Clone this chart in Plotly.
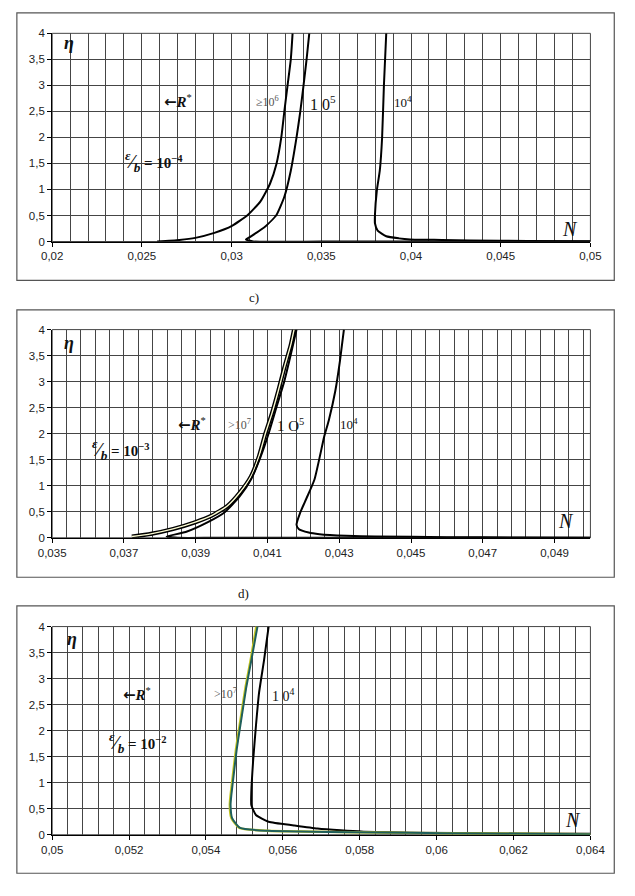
import plotly.graph_objects as go

W, H = 635, 896

# ---------------- Panel b (top): eps/b = 1e-4 ----------------
p1_re6_x = [0.02585, 0.02709, 0.02798, 0.02904, 0.03002, 0.0309, 0.03161, 0.03214, 0.0325, 0.03277, 0.03294, 0.03312, 0.0333, 0.0334]
p1_re6_y = [0.0, 0.03, 0.07, 0.165, 0.30, 0.51, 0.77, 1.11, 1.49, 2.0, 2.5, 3.0, 3.5, 4.0]
p1_re5_x = [0.05, 0.04, 0.035, 0.0312, 0.0308, 0.03108, 0.03188, 0.0325, 0.03294, 0.0333, 0.03362, 0.03383, 0.03401, 0.03418, 0.03433]
p1_re5_y = [0.0, 0.0, 0.0, 0.0, 0.04, 0.10, 0.29, 0.51, 0.86, 1.36, 2.0, 2.5, 3.0, 3.5, 4.0]
p1_re4_x = [0.03862, 0.03849, 0.03839, 0.03826, 0.0381, 0.03799, 0.03799, 0.03814, 0.03862, 0.03933, 0.03995, 0.04172, 0.0433, 0.0465, 0.05]
p1_re4_y = [4.0, 3.0, 2.0, 1.36, 0.99, 0.51, 0.35, 0.21, 0.10, 0.06, 0.04, 0.03, 0.02, 0.01, 0.005]

# ---------------- Panel c (middle): eps/b = 1e-3 ----------------
p2_re7_x = [0.03722, 0.03775, 0.03837, 0.03899, 0.03943, 0.03988, 0.04023, 0.04054, 0.04076, 0.04094, 0.04112, 0.0413, 0.04147, 0.04165, 0.04174]
p2_re7_y = [0.025, 0.076, 0.17, 0.30, 0.42, 0.61, 0.87, 1.18, 1.56, 2.0, 2.38, 2.82, 3.27, 3.71, 4.0]
p2_re5_x = [0.050, 0.046, 0.042, 0.0395, 0.0385, 0.03819, 0.03872, 0.03934, 0.03979, 0.04023, 0.04054, 0.04081, 0.04103, 0.04125, 0.04147, 0.04165, 0.04181]
p2_re5_y = [0.0, 0.0, 0.0, 0.0, 0.0, 0.025, 0.11, 0.30, 0.48, 0.80, 1.12, 1.56, 2.0, 2.51, 3.01, 3.52, 4.0]
p2_re4_x = [0.04313, 0.04302, 0.04289, 0.04271, 0.04258, 0.04231, 0.04205, 0.04191, 0.04181, 0.04187, 0.04215, 0.04245, 0.0432, 0.044, 0.046, 0.048, 0.050]
p2_re4_y = [4.0, 3.4, 2.82, 2.26, 1.94, 1.12, 0.70, 0.48, 0.25, 0.17, 0.10, 0.07, 0.04, 0.025, 0.012, 0.006, 0.003]

# ---------------- Panel d (bottom): eps/b = 1e-2 ----------------
p3_re7_x = [0.05534, 0.05518, 0.05505, 0.05493, 0.0548, 0.05472, 0.05466, 0.05464, 0.05468, 0.05489, 0.05563, 0.05646, 0.05716, 0.05849, 0.06014, 0.0622, 0.064]
p3_re7_y = [4.0, 3.35, 2.84, 2.27, 1.64, 1.14, 0.76, 0.57, 0.32, 0.13, 0.076, 0.063, 0.055, 0.044, 0.03, 0.02, 0.012]
p3_re6_x = [0.05531, 0.05516, 0.05503, 0.05491, 0.05478, 0.0547, 0.05464, 0.05462, 0.05466, 0.05487, 0.0556, 0.05646, 0.05716, 0.05849, 0.06014, 0.0622, 0.064]
p3_re6_y = [4.0, 3.35, 2.84, 2.27, 1.64, 1.14, 0.76, 0.57, 0.32, 0.13, 0.076, 0.063, 0.055, 0.044, 0.03, 0.02, 0.012]
p3_re4_x = [0.05563, 0.05551, 0.05538, 0.0553, 0.05523, 0.05518, 0.05518, 0.0553, 0.05563, 0.05629, 0.0569, 0.0575, 0.0581, 0.0593, 0.0617, 0.064]
p3_re4_y = [4.0, 3.35, 2.72, 2.09, 1.45, 0.82, 0.57, 0.38, 0.25, 0.18, 0.12, 0.085, 0.06, 0.04, 0.025, 0.018]

# axis settings (ranges / ticks)
x1_range, x1_dtick, x1_minor = [0.02, 0.05], 0.005, 0.001
x2_range, x2_dtick, x2_minor = [0.035, 0.050], 0.002, 0.0004
x3_range, x3_dtick, x3_minor = [0.05, 0.064], 0.002, 0.0004
y_range, y_dtick = [0, 4], 0.5


def px(x):
    return x / W


def py(y):
    return 1 - y / H


fig = go.Figure()

BLACK = "#000000"


def add(x, y, xa, ya, color=BLACK, width=2.0):
    fig.add_trace(go.Scatter(x=x, y=y, xaxis=xa, yaxis=ya, mode="lines",
                             line=dict(color=color, width=width, shape="spline", smoothing=0.5),
                             showlegend=False, hoverinfo="skip"))


add(p1_re6_x, p1_re6_y, "x", "y")
add(p1_re5_x, p1_re5_y, "x", "y")
add(p1_re4_x, p1_re4_y, "x", "y")

add(p2_re7_x, p2_re7_y, "x2", "y2", width=4.2)
add(p2_re7_x, p2_re7_y, "x2", "y2", color="#fbfbd2", width=1.4)
add(p2_re5_x, p2_re5_y, "x2", "y2")
add(p2_re4_x, p2_re4_y, "x2", "y2")

add(p3_re4_x, p3_re4_y, "x3", "y3")
add(p3_re6_x, p3_re6_y, "x3", "y3", color="#c8c820", width=2.4)
add(p3_re7_x, p3_re7_y, "x3", "y3", color="#1f5f5c", width=2.0)

GRID = "#454545"
tickfont = dict(family="Liberation Sans, Arial", size=11.5, color="#222222")


def xaxis(rng, dtick, minor, dom, anchor):
    return dict(range=rng, domain=dom, anchor=anchor, tick0=rng[0], dtick=dtick,
                tickformat=".3~f", showgrid=True, gridcolor=GRID, gridwidth=1,
                minor=dict(dtick=minor, tick0=rng[0], showgrid=True, gridcolor=GRID, gridwidth=1, ticks=""),
                showline=True, linecolor=BLACK, linewidth=1, ticks="outside", ticklen=4,
                tickcolor=BLACK, tickfont=tickfont, zeroline=False, fixedrange=True)


def yaxis(dom, anchor):
    return dict(range=y_range, domain=dom, anchor=anchor, dtick=y_dtick, tick0=0,
                tickformat=".1~f", showgrid=True, gridcolor=GRID, gridwidth=1,
                showline=True, linecolor=BLACK, linewidth=1, ticks="outside", ticklen=4,
                tickcolor=BLACK, tickfont=tickfont, zeroline=False, fixedrange=True)


xdom = [px(40), px(604)]
fig.update_layout(
    width=W, height=H, margin=dict(l=0, r=0, t=0, b=0),
    paper_bgcolor="white", plot_bgcolor="white", separators=", ",
    xaxis=xaxis(x1_range, x1_dtick, x1_minor, xdom, "y"),
    yaxis=yaxis([py(238.7), py(27.7)], "x"),
    xaxis2=xaxis(x2_range, x2_dtick, x2_minor, xdom, "y2"),
    yaxis2=yaxis([py(539), py(328)], "x2"),
    xaxis3=xaxis(x3_range, x3_dtick, x3_minor, xdom, "y3"),
    yaxis3=yaxis([py(840), py(629)], "x3"),
)

shapes = []
# outer frames of the three panels
for (t, b) in [(7, 278), (308, 579), (608, 879)]:
    shapes.append(dict(type="rect", xref="paper", yref="paper", x0=px(3), x1=px(629),
                       y0=py(b), y1=py(t), line=dict(color="#555555", width=1.2)))
# plot-area border (top / right gray)
for ax in ["x", "x2", "x3"]:
    yax = ax.replace("x", "y")
    shapes.append(dict(type="rect", xref=ax + " domain", yref=yax + " domain", x0=0, x1=1, y0=0, y1=1,
                       line=dict(color=GRID, width=1), layer="below"))
fig.update_layout(shapes=shapes)

ann = []
serif = "Liberation Serif, Times New Roman"


def text(x, y, s, size=14, color="#111111", xanchor="left", family=serif):
    ann.append(dict(x=px(x), y=py(y), xref="paper", yref="paper", text=s, showarrow=False,
                    xanchor=xanchor, yanchor="middle", font=dict(family=family, size=size, color=color)))


eta = "<b><i>η</i></b>"
rstar = ("<span style='font-family:DejaVu Sans;font-size:15px'><b>←</b></span>"
         "<b><i>R</i></b><sup>*</sup>")


def epsb(p):
    return ("<b><span style='font-size:19px'><sup><i>ε</i></sup>⁄<sub><i>b</i></sub></span>"
            " = 10<sup>−%d</sup></b>" % p)


# panel b
text(50, 38, eta, 18)
text(155, 97, rstar, 15)
text(114, 158, epsb(4), 15)
text(251, 97, "≥10<sup>6</sup>", 12, "#555555")
text(308, 98, "1 0<sup>5</sup>", 16)
text(396, 97, "10<sup>4</sup>", 13)
text(572, 226, "<i>N</i>", 20)

# panel c
text(252, 295, "c)", 13, xanchor="center")
text(50, 342, eta, 18)
text(170, 424, rstar, 15)
text(222, 424, "&gt;10<sup>7</sup>", 12, "#555555")
text(274, 425, "1 O<sup>5</sup>", 15)
text(340, 424, "10<sup>4</sup>", 13)
text(80, 450, epsb(3), 15)
text(568, 522, "<i>N</i>", 20)

# panel d
text(240, 595, "d)", 13, xanchor="center")
text(53, 642, eta, 18)
text(112, 698, rstar, 15)
text(207, 697, "&gt;10<sup>7</sup>", 12, "#555555")
text(268, 698, "1 0<sup>4</sup>", 14)
text(97, 746, epsb(2), 15)
text(575, 825, "<i>N</i>", 20)

fig.update_layout(annotations=ann)

fig.write_html("out.html")
